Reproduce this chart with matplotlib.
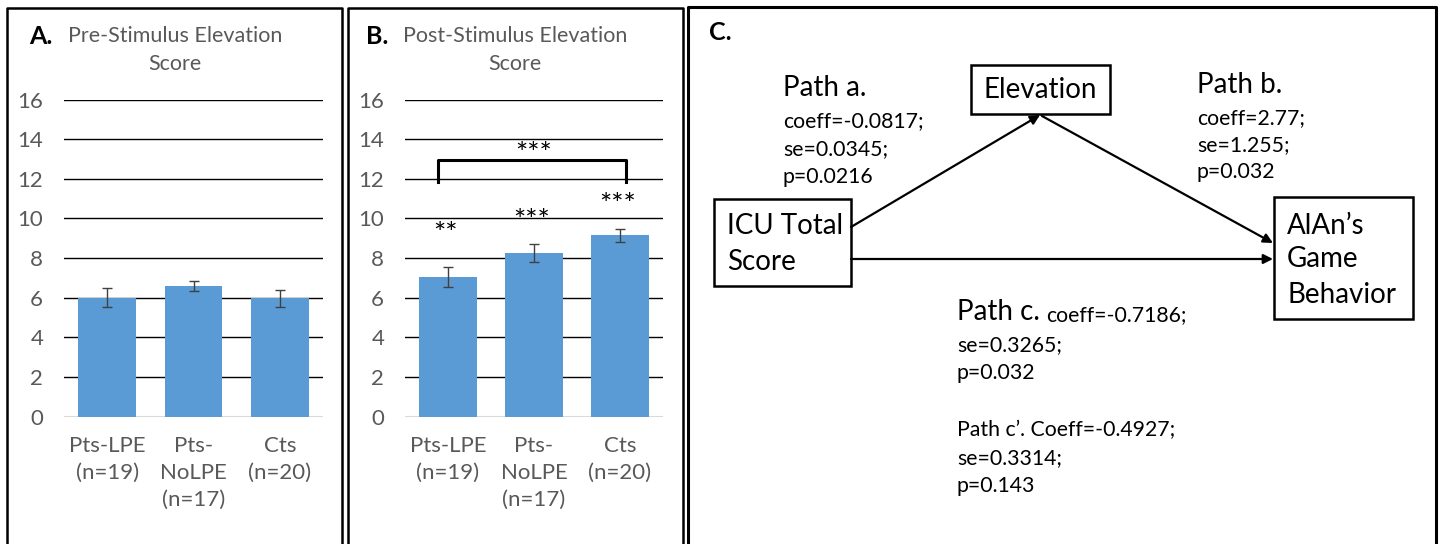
import matplotlib
matplotlib.use("Agg")
import matplotlib.pyplot as plt
from matplotlib.patches import Rectangle

plt.rcParams['font.family'] = ['Lato', 'DejaVu Sans']

# data
groups = ['Pts-LPE\n(n=19)', 'Pts-\nNoLPE\n(n=17)', 'Cts\n(n=20)']
pre_means = [6.0, 6.6, 5.97]
pre_err = [0.47, 0.27, 0.42]
post_means = [7.05, 8.25, 9.14]
post_err = [0.52, 0.44, 0.32]
post_stars = ['**', '***', '***']
post_star_y = [9.15, 9.84, 10.65]
yticks = range(0, 17, 2)

W, H = 1440, 544
bar_color = '#5b9bd5'
gray = '#595959'


def fx(x):
    return x / W


def fy(y):
    return 1 - y / H


fig = plt.figure(figsize=(14.4, 5.44), dpi=100)

# overlay in pixel units for the frames and the path diagram
ov = fig.add_axes([0, 0, 1, 1])
ov.set_xlim(0, W)
ov.set_ylim(H, 0)
ov.axis('off')
ov.patch.set_alpha(0)


def bar_panel(x0, x1, means, errs):
    ax = fig.add_axes([fx(x0), fy(416.7), fx(x1 - x0), (416.7 - 99.5) / H])
    xs = range(len(means))
    for v in yticks:
        if v == 0:
            continue
        ax.axhline(v, color='black', lw=1.0, zorder=1)
    ax.axhline(0, color='#d9d9d9', lw=1.5, zorder=1)
    ax.bar(xs, means, width=0.67, color=bar_color, zorder=2)
    ax.errorbar(xs, means, yerr=errs, fmt='none', ecolor='#404040',
                elinewidth=1.0, capsize=3.5, capthick=1.0, zorder=3)
    ax.set_xlim(-0.5, 2.5)
    ax.set_ylim(0, 16)
    ax.set_yticks(list(yticks))
    ax.set_xticks(list(xs))
    ax.set_xticklabels(groups, linespacing=1.42)
    ax.tick_params(axis='both', length=0, labelsize=16, labelcolor=gray)
    ax.tick_params(axis='y', pad=15)
    ax.tick_params(axis='x', pad=14)
    for s in ax.spines.values():
        s.set_visible(False)
    ax.patch.set_alpha(0)
    return ax


axA = bar_panel(64, 323, pre_means, pre_err)
axB = bar_panel(405, 663, post_means, post_err)

# panel titles
fig.text(fx(29), fy(37), 'A.', fontsize=18, fontweight='bold', va='center')
fig.text(fx(175), fy(35.7), 'Pre-Stimulus Elevation', fontsize=15.5,
         color=gray, ha='center', va='center')
fig.text(fx(175), fy(64), 'Score', fontsize=15.5, color=gray,
         ha='center', va='center')
fig.text(fx(366), fy(37), 'B.', fontsize=18, fontweight='bold', va='center')
fig.text(fx(515), fy(35.7), 'Post-Stimulus Elevation', fontsize=15.5,
         color=gray, ha='center', va='center')
fig.text(fx(515), fy(64), 'Score', fontsize=15.5, color=gray,
         ha='center', va='center')

# significance marks
for i, (s, y) in enumerate(zip(post_stars, post_star_y)):
    axB.text(i - 0.03, y, s, ha='center', va='center', fontsize=21)
axB.plot([-0.12, -0.12, 2.07, 2.07], [11.85, 12.97, 12.97, 11.85],
         color='black', lw=2.2, clip_on=False, zorder=4)
axB.text(1.0, 13.2, '***', ha='center', va='center', fontsize=21)

# frames
ov.plot([7, 7, 342, 342], [H, 8, 8, H], color='black', lw=1.8)
ov.plot([348, 348, 682.5, 682.5], [H, 8, 8, H], color='black', lw=1.8)
ov.plot([687.5, 687.5, 1436, 1436], [H, 7, 7, H], color='black', lw=2.2)

# panel C: mediation diagram
ov.text(709, 33, 'C.', fontsize=18, fontweight='bold', va='center')
boxes = [(971, 65, 139, 49), (714, 199, 137, 87), (1274, 197, 139, 122)]
for bx, by, bw, bh in boxes:
    ov.add_patch(Rectangle((bx, by), bw, bh, fill=False, ec='black', lw=1.8))

big = 20
small = 15.3
ov.text(1040.5, 90, 'Elevation', fontsize=big, ha='center', va='center')
for txt, y in [('ICU Total', 226), ('Score', 262)]:
    ov.text(727, y, txt, fontsize=big, va='center')
for txt, y in [('AlAn\u2019s', 226), ('Game', 259), ('Behavior', 295)]:
    ov.text(1287, y, txt, fontsize=big, va='center')

arrow = dict(arrowstyle='-|>', lw=1.6, color='black', mutation_scale=14,
             shrinkA=0, shrinkB=0)
ov.annotate('', xy=(1040, 115), xytext=(851, 227), arrowprops=arrow)
ov.annotate('', xy=(1273, 243), xytext=(1042, 116), arrowprops=arrow)
ov.annotate('', xy=(1273, 259), xytext=(851, 259), arrowprops=arrow)

ov.text(783, 88.5, 'Path a.', fontsize=big, va='center')
for txt, y in [('coeff=-0.0817;', 121.5), ('se=0.0345;', 149), ('p=0.0216', 177)]:
    ov.text(783, y, txt, fontsize=small, va='center')
ov.text(1197, 85, 'Path b.', fontsize=big, va='center')
for txt, y in [('coeff=2.77;', 118), ('se=1.255;', 145), ('p=0.032', 172)]:
    ov.text(1197, y, txt, fontsize=small, va='center')
ov.text(957, 312.5, 'Path c.', fontsize=big, va='center')
ov.text(1046, 315, 'coeff=-0.7186;', fontsize=small, va='center')
for txt, y in [('se=0.3265;', 345.5), ('p=0.032', 373),
               ('Path c\u2019. Coeff=-0.4927;', 430.5), ('se=0.3314;', 458),
               ('p=0.143', 486)]:
    ov.text(957, y, txt, fontsize=small, va='center')

fig.savefig('out.png', dpi=100)
